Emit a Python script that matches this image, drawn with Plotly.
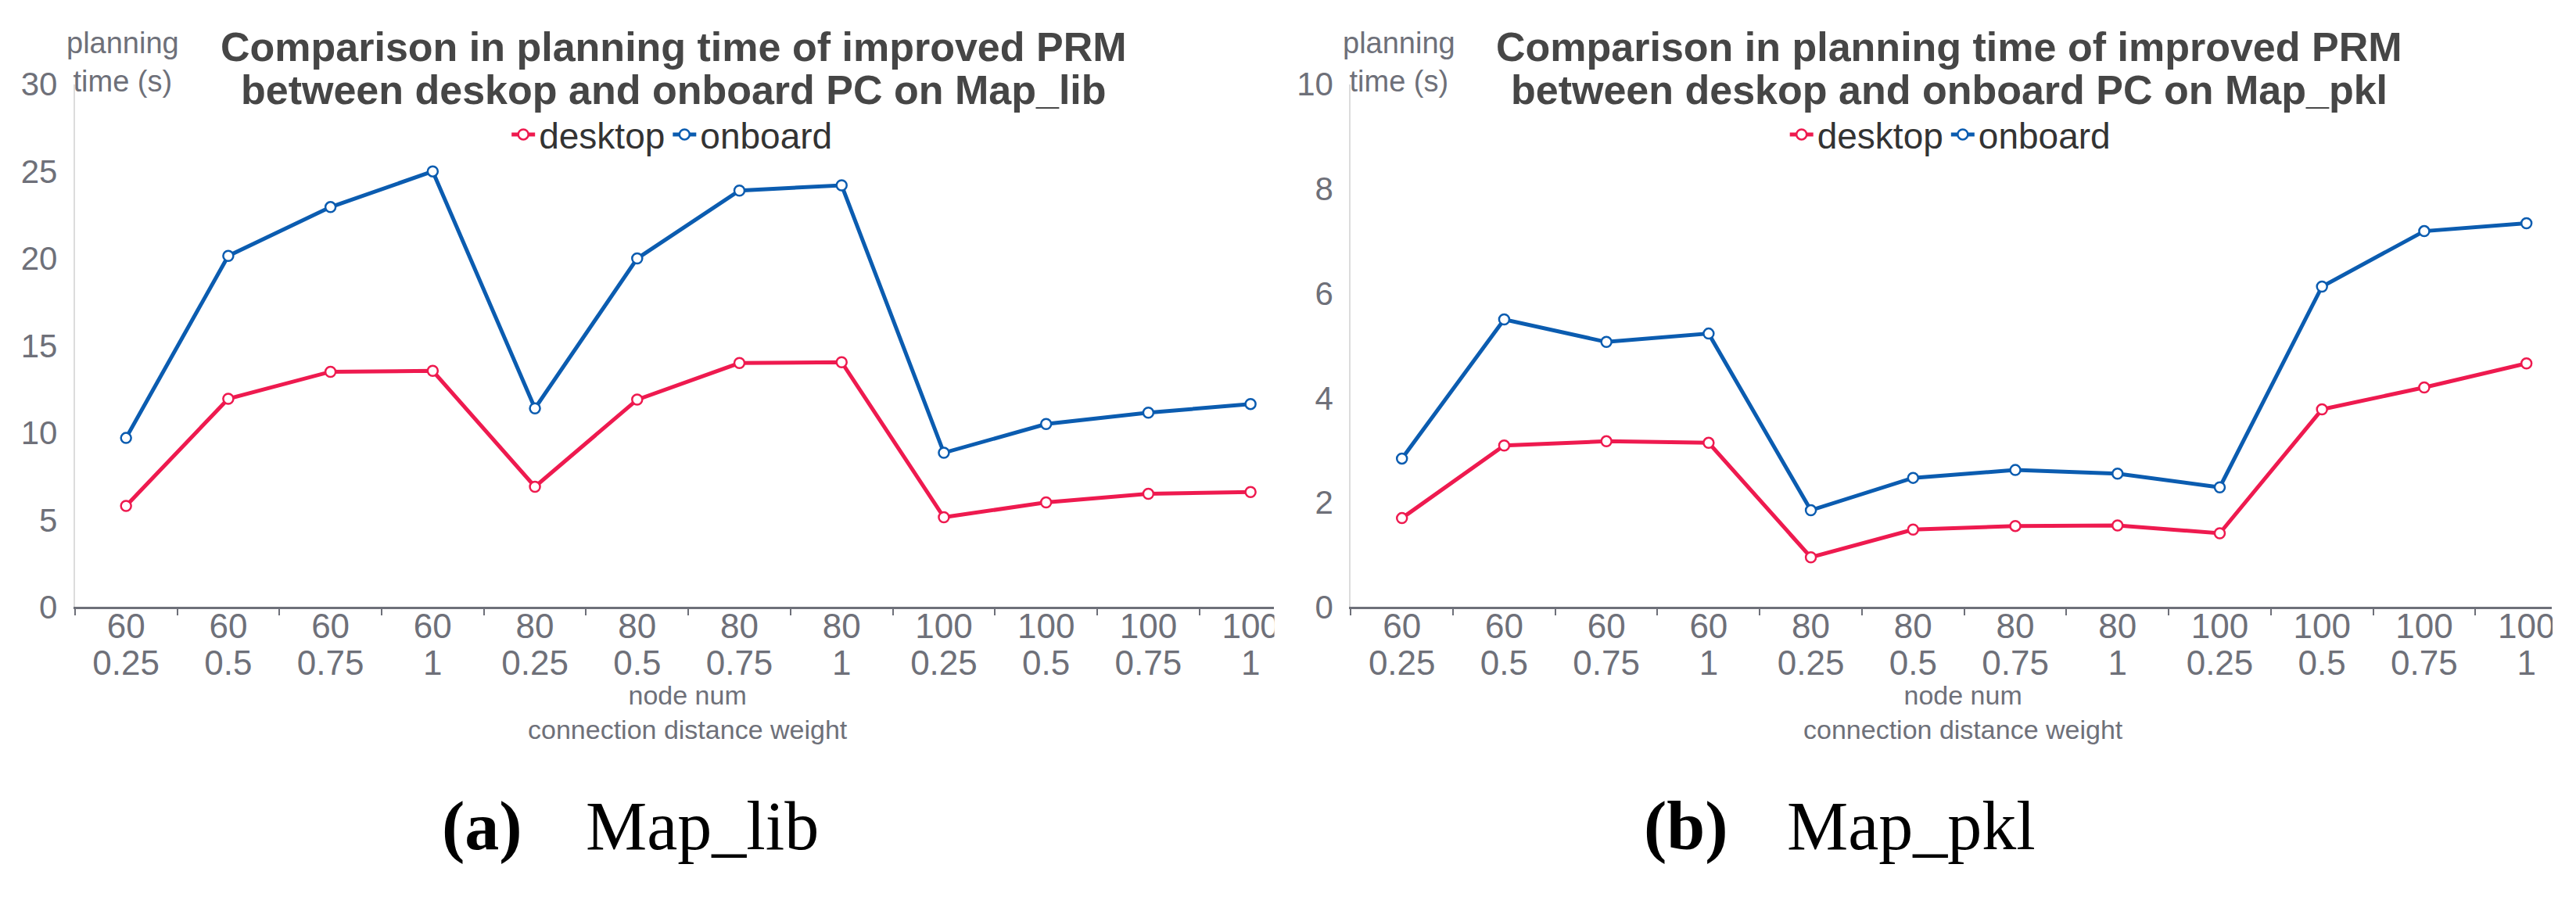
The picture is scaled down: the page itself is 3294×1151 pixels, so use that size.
import plotly.graph_objects as go

W, H = 3294, 1151

# ---------------- data ----------------
node_num = ["60", "60", "60", "60", "80", "80", "80", "80", "100", "100", "100", "100"]
conn_weight = ["0.25", "0.5", "0.75", "1", "0.25", "0.5", "0.75", "1", "0.25", "0.5", "0.75", "1"]
positions = list(range(len(node_num)))

lib_desktop = [5.8, 11.95, 13.5, 13.55, 6.9, 11.9, 14.0, 14.05, 5.15, 6.0, 6.5, 6.6]
lib_onboard = [9.7, 20.15, 22.95, 25.0, 11.4, 20.0, 23.9, 24.2, 8.85, 10.5, 11.15, 11.65]

pkl_desktop = [1.70, 3.09, 3.17, 3.14, 0.95, 1.48, 1.55, 1.56, 1.41, 3.78, 4.20, 4.66]
pkl_onboard = [2.84, 5.50, 5.07, 5.23, 1.85, 2.47, 2.62, 2.55, 2.29, 6.13, 7.19, 7.34]

lib_yticks = [0, 5, 10, 15, 20, 25, 30]
pkl_yticks = [0, 2, 4, 6, 8, 10]

series_names = ["desktop", "onboard"]
title_lib = ["Comparison in planning time of improved PRM", "between deskop and onboard PC on Map_lib"]
title_pkl = ["Comparison in planning time of improved PRM", "between deskop and onboard PC on Map_pkl"]
y_title = "planning<br>time (s)"
x_title = "node num<br>connection distance weight"

# ---------------- style ----------------
RED = "#ee1a4f"
BLUE = "#0b5cb0"
AXIS = "#6E7079"
TITLE_C = "#464646"
FONT = "Liberation Sans"
SERIF = "Liberation Serif"
PAGE_OFF = 8  # the page body margin shifts the figure by this many pixels


def px(x):
    return (x - PAGE_OFF) / W


def py(y):
    return 1 - (y - PAGE_OFF) / H


fig = go.Figure()


def add_series(vals, name, color, xa, ya, legend):
    fig.add_trace(go.Scatter(
        x=positions, y=vals, name=name, mode="lines+markers",
        xaxis=xa, yaxis=ya, legend=legend,
        line=dict(color=color, width=5),
        marker=dict(symbol="circle", size=13, color="white", line=dict(color=color, width=2.5)),
    ))


add_series(lib_desktop, series_names[0], RED, "x", "y", "legend")
add_series(lib_onboard, series_names[1], BLUE, "x", "y", "legend")
add_series(pkl_desktop, series_names[0], RED, "x2", "y2", "legend2")
add_series(pkl_onboard, series_names[1], BLUE, "x2", "y2", "legend2")
# helper traces so the overlay axes (second label row) are drawn
fig.add_trace(go.Scatter(x=positions, y=[None] * len(positions), xaxis="x3", yaxis="y",
                         showlegend=False, hoverinfo="skip"))
fig.add_trace(go.Scatter(x=positions, y=[None] * len(positions), xaxis="x4", yaxis="y2",
                         showlegend=False, hoverinfo="skip"))

BAND = 131.0
L0, L1 = 96, 1632
R0, R1 = 1731, 3270
Y_TOP, Y_BOT = 88, 785
ydom = [py(Y_BOT), py(Y_TOP)]
lrange = [-0.5, -0.5 + (L1 - L0) / BAND]
rrange = [-0.5, -0.5 + (R1 - R0) / BAND]

tickfont = dict(family=FONT, size=44, color=AXIS)


def main_x(domain, rng, anchor):
    return dict(
        domain=domain, range=rng, anchor=anchor, tickmode="array",
        tickvals=positions, ticktext=node_num, tickfont=tickfont,
        ticks="", showline=True, linecolor=AXIS, linewidth=3,
        showgrid=False, zeroline=False, ticklabelstandoff=-16,
        minor=dict(tickmode="linear", tick0=-0.5, dtick=1, ticks="outside",
                   ticklen=8, tickcolor=AXIS, tickwidth=2, showgrid=False),
    )


def second_x(over, rng, anchor):
    return dict(
        overlaying=over, range=rng, anchor=anchor, tickmode="array",
        tickvals=positions, ticktext=conn_weight, tickfont=tickfont,
        ticks="", showline=False, showgrid=False, zeroline=False,
        ticklabelstandoff=42,
    )


def main_y(domain, ticks, anchor):
    return dict(
        domain=domain, range=[ticks[0], ticks[-1]], anchor=anchor,
        tickmode="array", tickvals=ticks,
        tickfont=dict(family=FONT, size=42, color=AXIS),
        ticks="", showline=True, linecolor="#dcdcdc", linewidth=2,
        showgrid=False, zeroline=False, ticklabelstandoff=12,
    )


legend_style = dict(orientation="h", y=py(155), xanchor="center", yanchor="middle",
                    font=dict(family=FONT, size=46, color="#333333"),
                    bgcolor="rgba(0,0,0,0)", itemwidth=30)

fig.update_layout(
    width=W, height=H, margin=dict(l=0, r=0, t=0, b=0),
    paper_bgcolor="white", plot_bgcolor="white",
    font=dict(family=FONT, color=AXIS),
    xaxis=main_x([px(L0), px(L1)], lrange, "y"),
    xaxis3=second_x("x", lrange, "y"),
    yaxis=main_y(ydom, lib_yticks, "x"),
    xaxis2=main_x([px(R0), px(R1)], rrange, "y2"),
    xaxis4=second_x("x2", rrange, "y2"),
    yaxis2=main_y(ydom, pkl_yticks, "x2"),
    legend=dict(x=px(861), **legend_style),
    legend2=dict(x=px(2499), **legend_style),
    showlegend=True,
)

# clip the right ends of the category axes like the cropped source figures
fig.add_shape(type="rect", xref="paper", yref="paper", x0=px(L1 + 1), x1=px(1672),
              y0=py(900), y1=py(770), fillcolor="white", line=dict(width=0), layer="above")
fig.add_shape(type="rect", xref="paper", yref="paper", x0=px(R1 + 1), x1=1,
              y0=py(900), y1=py(770), fillcolor="white", line=dict(width=0), layer="above")


def ann(text, x, y, size, color, family=FONT, bold=False):
    fig.add_annotation(text=f"<b>{text}</b>" if bold else text, x=px(x), y=py(y),
                       xref="paper", yref="paper", xanchor="center", yanchor="middle",
                       showarrow=False, font=dict(family=family, size=size, color=color))


for cx, ttl in ((863, title_lib), (2498, title_pkl)):
    ann(ttl[0], cx, 38, 52, TITLE_C, bold=True)
    ann(ttl[1], cx, 96, 52, TITLE_C, bold=True)

for cx in (157, 1793):
    ann(y_title, cx, 59, 38, AXIS)

for cx in (881, 2516):
    ann(x_title, cx, 925, 34, AXIS)

ann("(a)", 618, 1077, 88, "black", family=SERIF, bold=True)
ann("Map_lib", 900, 1077, 88, "black", family=SERIF)
ann("(b)", 2161, 1077, 88, "black", family=SERIF, bold=True)
ann("Map_pkl", 2449, 1077, 88, "black", family=SERIF)

fig.write_html("out.html")
